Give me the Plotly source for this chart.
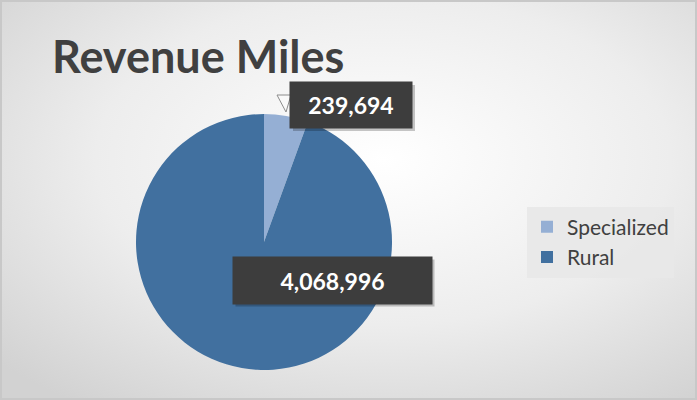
"""Revenue Miles pie chart."""

import base64

import plotly.graph_objects as go

W, H = 697, 400

# Data
categories = ["Specialized", "Rural"]
revenue_miles = [239694, 4068996]
slice_colors = ["#95AFD4", "#41709F"]

# Soft radial gradient for the chart background
bg_svg = f"""<svg xmlns='http://www.w3.org/2000/svg' width='{W}' height='{H}'>
<defs><radialGradient id='g' cx='55%' cy='40%' r='75%'>
<stop offset='0%' stop-color='#ffffff'/>
<stop offset='55%' stop-color='#ededed'/>
<stop offset='100%' stop-color='#d2d2d2'/>
</radialGradient></defs>
<rect width='{W}' height='{H}' fill='url(#g)'/>
</svg>"""
bg_uri = "data:image/svg+xml;base64," + base64.b64encode(bg_svg.encode()).decode()


def px_x(x):
    return x / W


def px_y(y):
    return 1 - y / H


fig = go.Figure()

fig.add_trace(
    go.Pie(
        labels=categories,
        values=revenue_miles,
        sort=False,
        direction="clockwise",
        rotation=0,
        marker=dict(colors=slice_colors, line=dict(width=0)),
        textinfo="none",
        hoverinfo="label+value",
        domain=dict(x=[px_x(136), px_x(392)], y=[px_y(370), px_y(114)]),
    )
)

label_font = dict(family="Lato, Open Sans, sans-serif", size=23, color="white")

# Data labels as dark callout boxes: (center x, center y, width, height) in px
label_boxes = [
    (351, 105, 114, 38),
    (332, 280, 191, 39),
]
for val, (cx, cy, w, h) in zip(revenue_miles, label_boxes):
    # drop shadow
    fig.add_shape(
        type="rect",
        xref="paper", yref="paper",
        x0=px_x(cx - w / 2 - 4 + 3), x1=px_x(cx + w / 2 + 4 + 3),
        y0=px_y(cy + h / 2 + 4 + 3), y1=px_y(cy - h / 2 - 4 + 3),
        fillcolor="rgba(0,0,0,0.22)", line=dict(width=0), layer="above",
    )
    fig.add_annotation(
        x=px_x(cx), y=px_y(cy), xref="paper", yref="paper",
        xanchor="center", yanchor="middle",
        text=f"<b>{val:,}</b>", showarrow=False,
        font=label_font, bgcolor="#3d3d3d", borderpad=4,
        width=w, height=h, align="center", valign="middle",
    )

# Leader for the small slice
fig.add_shape(
    type="path",
    xref="paper", yref="paper",
    path=f"M {px_x(277)} {px_y(95)} L {px_x(291)} {px_y(95)} L {px_x(286)} {px_y(112)} Z",
    line=dict(color="#8c8c8c", width=1), fillcolor="rgba(255,255,255,0.4)",
    layer="below",
)

# Outer chart border
fig.add_shape(
    type="rect", xref="paper", yref="paper",
    x0=px_x(1), x1=px_x(W - 1), y0=px_y(H - 1), y1=px_y(1),
    line=dict(color="#c8c8c8", width=2), layer="above",
)

fig.update_layout(
    width=W,
    height=H,
    margin=dict(l=0, r=0, t=0, b=0),
    paper_bgcolor="#ececec",
    images=[
        dict(
            source=bg_uri, xref="paper", yref="paper", x=0, y=1,
            sizex=1, sizey=1, sizing="stretch", layer="below",
        )
    ],
    title=dict(
        text="<b>Revenue Miles</b>",
        x=px_x(52), xanchor="left",
        y=px_y(57), yanchor="middle",
        font=dict(family="Lato, Open Sans, sans-serif", size=45, color="#404040"),
    ),
    showlegend=True,
    legend=dict(
        x=px_x(527), y=px_y(242), xanchor="left", yanchor="middle",
        bgcolor="rgba(232,232,232,0.9)",
        borderwidth=0,
        font=dict(family="Lato, Open Sans, sans-serif", size=21, color="#404040"),
        traceorder="normal",
    ),
)

fig.write_html(
    "out.html",
    config={"displayModeBar": False},
    post_script="document.body.style.margin='0';",
)
